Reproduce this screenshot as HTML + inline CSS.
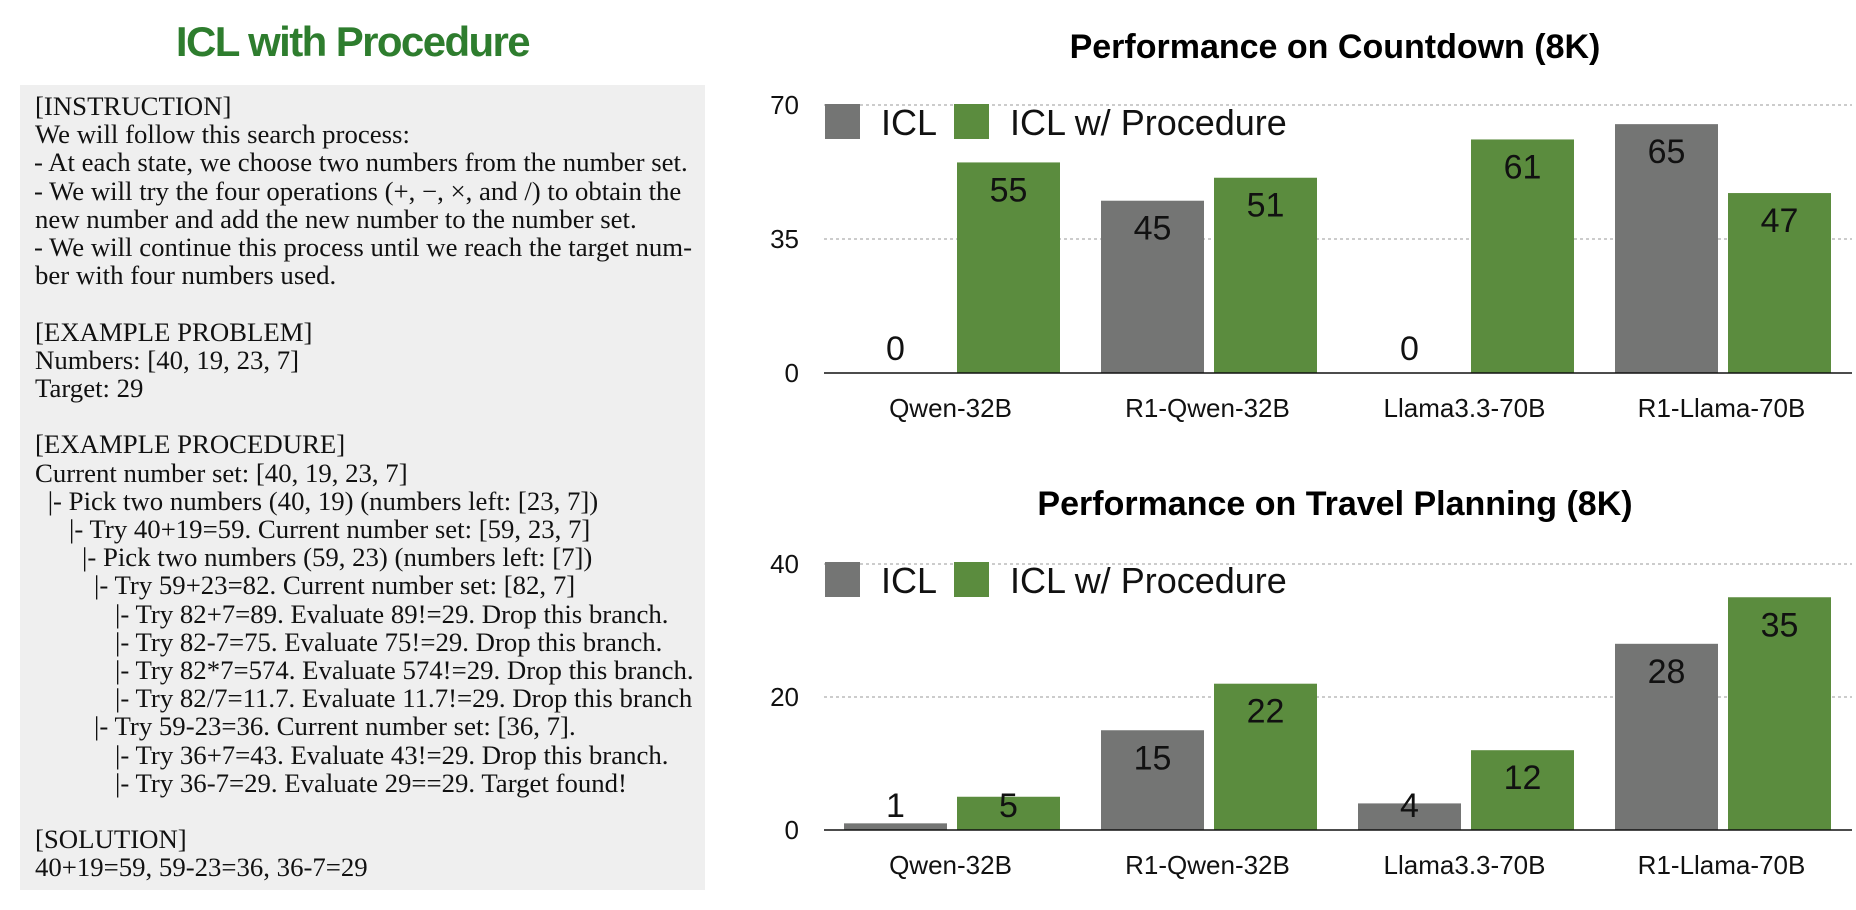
<!DOCTYPE html>
<html><head><meta charset="utf-8">
<style>
body{margin:0;width:1856px;height:910px;background:#fff;overflow:hidden;position:relative;font-family:"Liberation Sans",sans-serif}
#title{position:absolute;left:0;width:705px;top:18px;text-align:center;font:bold 42px "Liberation Sans",sans-serif;color:#2e7d2e;letter-spacing:-1.6px}
#box{position:absolute;left:20px;top:85px;width:685px;height:805px;background:#efefef}
.ln{position:absolute;white-space:pre;font:26px "Liberation Serif",serif;color:#111;transform-origin:0 0;transform:scaleX(1.03)}
svg{position:absolute;left:0;top:0}
</style></head><body>
<div id="title">ICL with Procedure</div>
<div id="box"></div>
<svg id="chart" width="1856" height="910"></svg>
<script>
const categories=["Qwen-32B","R1-Qwen-32B","Llama3.3-70B","R1-Llama-70B"];
const countdownICL=[0,45,0,65];
const countdownProc=[55,51,61,47];
const travelICL=[1,15,4,28];
const travelProc=[5,22,12,35];
const countdownTicks=[0,35,70];
const travelTicks=[0,20,40];
const seriesNames=["ICL","ICL w/ Procedure"];

const lines=[
["[INSTRUCTION]",0],["We will follow this search process:",0],
["- At each state, we choose two numbers from the number set.",-1],
["- We will try the four operations (+, \u2212, \u00d7, and /) to obtain the",-1],
["new number and add the new number to the number set.",0],
["- We will continue this process until we reach the target num-",-1],
["ber with four numbers used.",0],["",0],
["[EXAMPLE PROBLEM]",0],["Numbers: [40, 19, 23, 7]",0],["Target: 29",0],["",0],
["[EXAMPLE PROCEDURE]",0],["Current number set: [40, 19, 23, 7]",0],
[" |- Pick two numbers (40, 19) (numbers left: [23, 7])",6],
["|- Try 40+19=59. Current number set: [59, 23, 7]",34],
["|- Pick two numbers (59, 23) (numbers left: [7])",47],
["|- Try 59+23=82. Current number set: [82, 7]",59],
["|- Try 82+7=89. Evaluate 89!=29. Drop this branch.",80],
["|- Try 82-7=75. Evaluate 75!=29. Drop this branch.",80],
["|- Try 82*7=574. Evaluate 574!=29. Drop this branch.",80],
["|- Try 82/7=11.7. Evaluate 11.7!=29. Drop this branch",80],
["|- Try 59-23=36. Current number set: [36, 7].",59],
["|- Try 36+7=43. Evaluate 43!=29. Drop this branch.",80],
["|- Try 36-7=29. Evaluate 29==29. Target found!",80],
["",0],["[SOLUTION]",0],["40+19=59, 59-23=36, 36-7=29",0]];
lines.forEach((l,i)=>{
 if(!l[0])return;
 const d=document.createElement('div');
 d.className='ln';d.textContent=l[0];
 d.style.left=(35+l[1])+'px';d.style.top=(115-23+i*28.2)+'px';
 
 
 document.body.appendChild(d);
});

const NS="http://www.w3.org/2000/svg";
const svg=document.getElementById('chart');
function mk(tag,attrs,txt){const e=document.createElementNS(NS,tag);for(const k in attrs)e.setAttribute(k,attrs[k]);if(txt!==undefined)e.textContent=txt;svg.appendChild(e);return e;}
const GRAY="#747574",GREEN="#5b8c3e";
function chart(title,titleY,y0,yTop,maxV,ticks,a,b,legY){
 const left=824,right=1852,gw=257,bw=103;
 const y=v=>y0-(v/maxV)*(y0-yTop);
 let t=mk('text',{x:1335,y:titleY,'text-anchor':'middle','font-size':34,'font-weight':'bold','font-family':'Liberation Sans, sans-serif'},title);
 
 
 ticks.forEach(v=>{
  if(v>0){const g=mk('line',{x1:left,x2:right,y1:y(v),y2:y(v),stroke:'#999','stroke-dasharray':'3,3','stroke-width':1});
   
   }
  const tl=mk('text',{x:799,y:y(v)+9,'text-anchor':'end','font-size':26,fill:'#111'},String(v));
  
  
 });
 categories.forEach((c,i)=>{
  const gx=left+i*gw;
  [[a[i],GRAY,gx+20],[b[i],GREEN,gx+133]].forEach(([v,col,x])=>{
   const r=mk('rect',{x:x,y:y(v),width:bw,height:y0-y(v),fill:col});
   
   
   const cy=Math.min(y(v)+27,y0-25);
   const lb=mk('text',{x:x+bw/2,y:cy+12,'text-anchor':'middle','font-size':34,fill:'#111'},String(v));
   
   
  });
  const cl=mk('text',{x:gx+gw/2-2,y:y0+44,'text-anchor':'middle','font-size':26,fill:'#111'},c);
  
  
 });
 const ax=mk('line',{x1:left,x2:right,y1:y0,y2:y0,stroke:'#111','stroke-width':1.5});
 
 
 [[825,GRAY,881,seriesNames[0]],[954,GREEN,1010,seriesNames[1]]].forEach(([sx,col,tx,name])=>{
  const s=mk('rect',{x:sx,y:legY,width:35,height:35,fill:col});
  
  
  const lt=mk('text',{x:tx,y:legY+31,'font-size':36,fill:'#111'},name);
  
  
 });
}
chart("Performance on Countdown (8K)",58,373,105,70,countdownTicks,countdownICL,countdownProc,104);
chart("Performance on Travel Planning (8K)",515,830,564,40,travelTicks,travelICL,travelProc,562);
</script>
</body></html>
